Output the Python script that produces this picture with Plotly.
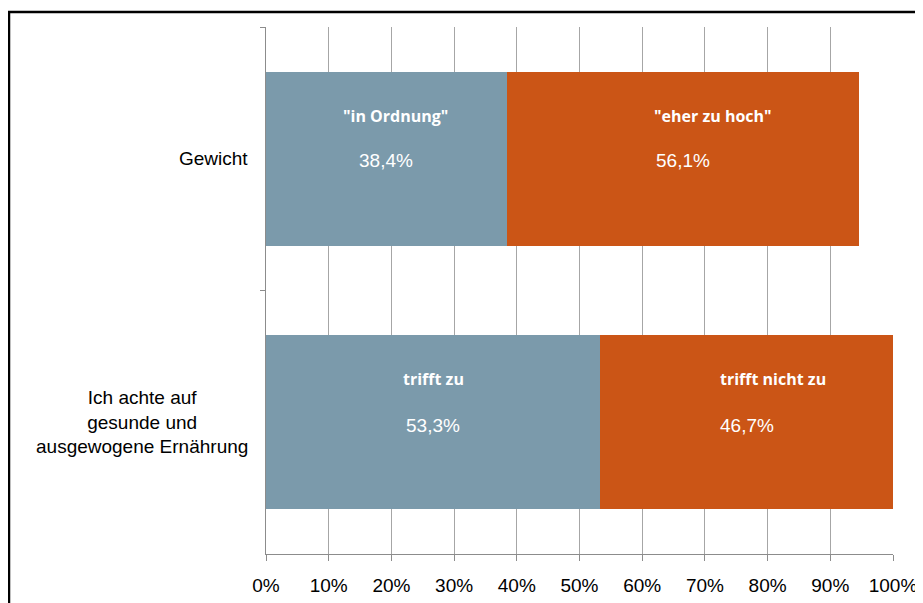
import plotly.graph_objects as go

# data
categories = ["Gewicht", "Ich achte auf gesunde und ausgewogene Ernährung"]
category_labels = ["Gewicht", "Ich achte auf<br>gesunde und<br>ausgewogene Ernährung"]
positive_values = [38.4, 53.3]
negative_values = [56.1, 46.7]
positive_names = ['"in Ordnung"', "trifft zu"]
negative_names = ['"eher zu hoch"', "trifft nicht zu"]
x_ticks = [0, 10, 20, 30, 40, 50, 60, 70, 80, 90, 100]

blue = "#7b9aab"
orange = "#cb5516"

fig = go.Figure()

fig.add_trace(go.Bar(
    y=categories,
    x=positive_values,
    orientation="h",
    marker=dict(color=blue, line=dict(width=0)),
    showlegend=False,
))
fig.add_trace(go.Bar(
    y=categories,
    x=negative_values,
    orientation="h",
    marker=dict(color=orange, line=dict(width=0)),
    showlegend=False,
))

# text inside the bars
label_shift = [[9, 30], [0, 26]]
pct_shift = [2, 3]
for i, cat in enumerate(categories):
    segments = [(0, positive_values[i], positive_names[i]),
                (positive_values[i], negative_values[i], negative_names[i])]
    for j, (base, val, name) in enumerate(segments):
        mid = base + val / 2
        fig.add_annotation(
            x=mid, y=cat, text="<b>" + name + "</b>", showarrow=False,
            xshift=label_shift[i][j], yshift=43,
            font=dict(family="Open Sans, Noto Sans, sans-serif", size=16, color="white"),
        )
        fig.add_annotation(
            x=mid, y=cat, text=f"{val:.1f}%".replace(".", ","), showarrow=False,
            yshift=-pct_shift[i],
            font=dict(family="Liberation Sans, Arial, sans-serif", size=19, color="white"),
        )

# category labels, centred lines like the original
for cat, lab in zip(categories, category_labels):
    fig.add_annotation(
        x=0, xref="paper", y=cat, text=lab, showarrow=False,
        xanchor="right", xshift=-16, align="center",
        font=dict(family="Liberation Sans, Arial, sans-serif", size=19, color="black"),
    )

# outer frame (page has an 8px body margin)
fig.add_shape(
    type="rect", xref="paper", yref="paper",
    x0=(1 - 258) / 627, x1=(930 - 258) / 627,
    y0=(546 - 610) / 527, y1=(546 - 4) / 527,
    line=dict(color="black", width=2.5), fillcolor="rgba(0,0,0,0)",
)

fig.update_layout(
    barmode="stack",
    bargap=0.34,
    width=915,
    height=595,
    margin=dict(l=258, r=30, t=19, b=49, autoexpand=False),
    plot_bgcolor="white",
    paper_bgcolor="white",
    xaxis=dict(
        range=[0, 100],
        tickvals=x_ticks,
        ticktext=[f"{t}%" for t in x_ticks],
        automargin=False,
        showgrid=True,
        gridcolor="#a6a6a6",
        gridwidth=1,
        zeroline=False,
        showline=True,
        linecolor="#8c8c8c",
        linewidth=1,
        ticks="outside",
        ticklen=6,
        tickcolor="#8c8c8c",
        ticklabelstandoff=8,
        tickfont=dict(family="Liberation Sans, Arial, sans-serif", size=19, color="black"),
    ),
    yaxis=dict(
        autorange="reversed",
        automargin=False,
        showticklabels=False,
        showgrid=False,
        showline=True,
        linecolor="#8c8c8c",
        linewidth=1,
        ticks="outside",
        tickson="boundaries",
        ticklen=5,
        tickcolor="#8c8c8c",
    ),
)

fig.write_html("out.html")
